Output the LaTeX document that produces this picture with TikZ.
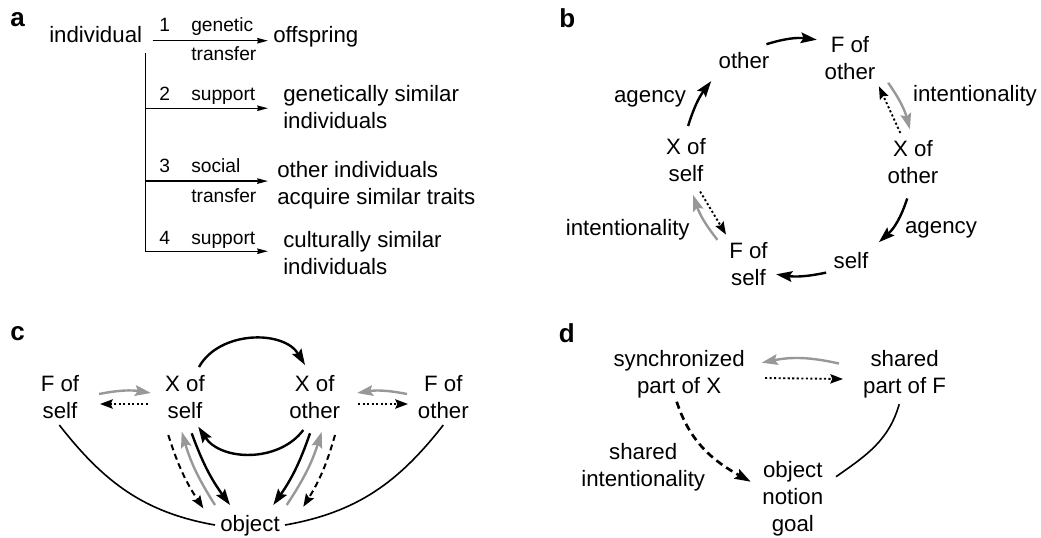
\documentclass[tikz,border=0pt]{standalone}
\usepackage{fontspec}
\setmainfont{Liberation Sans}
\usetikzlibrary{arrows.meta,calc}
\definecolor{arrowgray}{RGB}{152,152,152}

\begin{document}
\begin{tikzpicture}[x=0.75pt,y=0.75pt,
  txt/.style={inner sep=0pt, align=center, font=\fontsize{16.7}{20.3}\selectfont},
  small/.style={inner sep=0pt, anchor=base west, font=\fontsize{14.4}{17}\selectfont},
  panel/.style={inner sep=0pt, anchor=base west, font=\fontsize{19.5}{22}\selectfont\bfseries},
  thinarrow/.style={line width=1.1pt, -{Stealth[length=8pt,width=4pt,inset=0.5pt]}},
  solidarrow/.style={line width=1.8pt, -{Stealth[length=12pt,width=8pt,inset=2pt]}},
  grayarrow/.style={solidarrow, color=arrowgray},
  dotarrow/.style={line width=1.4pt, dash pattern=on 1.6pt off 1.8pt, -{Stealth[length=9.5pt,width=7pt,inset=1.5pt]}},
  dasharrow/.style={line width=1.5pt, dash pattern=on 4.5pt off 3pt, -{Stealth[length=9.5pt,width=7pt,inset=1.5pt]}},
  heavydash/.style={line width=2pt, dash pattern=on 5.5pt off 3.5pt, -{Stealth[length=12pt,width=8pt,inset=2pt]}},
  link/.style={line width=1.2pt}
]
\useasboundingbox (0,0) rectangle (1041,-537);

% ---------------- panel a ----------------
\node[panel] (la) at (10,-26.7) {a};
\node[txt, anchor=base west] (ind) at (49,-42) {individual};
\node[txt, anchor=base west] (off) at (273,-42) {offspring};
\node[txt, align=left, anchor=north west] (gen) at (283,-85) {genetically similar\\individuals};
\node[txt, align=left, anchor=north west] (acq) at (277,-161) {other individuals\\acquire similar traits};
\node[txt, align=left, anchor=north west] (cul) at (283,-231) {culturally similar\\individuals};

\node[small] (k1) at (159,-31) {1};
\node[small] (g1) at (191,-31) {genetic};
\node[small] (t1) at (191,-60) {transfer};
\node[small] (k2) at (159,-100) {2};
\node[small] (s2) at (191,-100) {support};
\node[small] (k3) at (159,-172) {3};
\node[small] (s3) at (191,-172) {social};
\node[small] (t3) at (191,-202) {transfer};
\node[small] (k4) at (159,-244) {4};
\node[small] (s4) at (191,-244) {support};

\draw[thinarrow] ($(ind.base east)+(10.2,1.3)$) -- ($(off.base west)+(-5,1.3)$);
\coordinate (trunk) at ($(ind.base east)+(3.2,-11)$);
\draw[thinarrow] ($(trunk |- gen.west)+(0,-1.25)$) -- ($(gen.west)+(-15,-1.25)$);
\draw[thinarrow] ($(trunk |- acq.west)+(0,4.1)$) -- ($(acq.west)+(-9,4.1)$);
\draw[thinarrow] (trunk) |- ($(cul.west)+(-15,1.75)$);

% ---------------- panel b ----------------
\node[panel] (lb) at (559,-27.6) {b};
\node[txt] (b-oth) at (744,-61) {other};
\node[txt] (b-Fo) at (850,-58) {F of\\other};
\node[txt] (b-Xo) at (913,-162) {X of\\other};
\node[txt] (b-self) at (851,-261) {self};
\node[txt] (b-Fs) at (748.5,-263.6) {F of\\self};
\node[txt] (b-Xs) at (686,-160) {X of\\self};
\node[txt] (b-int1) at (975,-95.8) {intentionality};
\node[txt] (b-ag1) at (941,-229.5) {agency};
\node[txt] (b-int2) at (627.7,-229.5) {intentionality};
\node[txt] (b-ag2) at (650,-99.2) {agency};

\draw[solidarrow] ($(b-oth)+(22.4,16.8)$) to[bend left=12] ($(b-Fo)+(-33.2,18.3)$);
\draw[grayarrow] ($(b-Fo)+(38.2,-24.8)$) to[bend left=10] ($(b-Xo)+(-3.1,32.6)$);
\draw[dotarrow] ($(b-Xo)+(-12.7,29.1)$) -- ($(b-Fo)+(28.9,-28.3)$);
\draw[solidarrow] ($(b-Xo)+(-5.8,-36.4)$) to[bend left=15] ($(b-self)+(27.9,18.8)$);
\draw[solidarrow] ($(b-self)+(-24.9,-11.6)$) to[bend left=10] ($(b-Fs)+(27.6,-10.7)$);
\draw[grayarrow] ($(b-Fs)+(-31.1,23.8)$) to[bend left=10] ($(b-Xs)+(7.2,-35)$);
\draw[dotarrow] ($(b-Xs)+(14.1,-31.5)$) -- ($(b-Fs)+(-22.5,29)$);
\draw[solidarrow] ($(b-Xs)+(2.1,34)$) to[bend left=10] ($(b-oth)+(-32.8,-20.1)$);

% ---------------- panel c ----------------
\node[panel] (lc) at (10,-340) {c};
\node[txt] (c-Fs) at (60,-397.5) {F of\\self};
\node[txt] (c-Xs) at (185,-397.5) {X of\\self};
\node[txt] (c-Xo) at (314.7,-397.5) {X of\\other};
\node[txt] (c-Fo) at (443.3,-397.5) {F of\\other};
\node[txt] (c-obj) at (250,-526) {object};

\draw[grayarrow] ($(c-Fs)+(39,3.5)$) to[bend left=10] ($(c-Xs)+(-34,4.5)$);
\draw[dotarrow] ($(c-Xs)+(-37,-6.5)$) -- ($(c-Fs)+(40,-6.5)$);
\draw[grayarrow] ($(c-Fo)+(-36.3,3.5)$) to[bend right=10] ($(c-Xo)+(42.3,4.5)$);
\draw[dotarrow] ($(c-Xo)+(43.3,-6.5)$) -- ($(c-Fo)+(-35.3,-6.5)$);

\draw[solidarrow] ($(c-Xs)+(14,30.5)$) to[bend left=60] ($(c-Xo)+(-9.7,32.5)$);
\draw[solidarrow] ($(c-Xo)+(-11.4,-32.5)$) to[bend left=55] ($(c-Xs)+(13.3,-29.2)$);

\draw[dasharrow] ($(c-Xs)+(-16.7,-37.5)$) to[bend right=8] ($(c-obj)+(-46.7,17.7)$);
\draw[grayarrow] ($(c-obj)+(-35,21)$) to[bend left=8] ($(c-Xs)+(-3.3,-34.2)$);
\draw[solidarrow] ($(c-Xs)+(6.7,-35.8)$) to[bend right=8] ($(c-obj)+(-20,21)$);
\draw[solidarrow] ($(c-Xo)+(-4.7,-35.8)$) to[bend left=8] ($(c-obj)+(23.3,21)$);
\draw[grayarrow] ($(c-obj)+(36.7,21)$) to[bend right=8] ($(c-Xo)+(7,-34.2)$);
\draw[dasharrow] ($(c-Xo)+(20.3,-37.5)$) to[bend left=8] ($(c-obj)+(53.3,19.3)$);

\draw[link] ($(c-Fs)+(-0.7,-27.5)$) to[out=-52,in=170] ($(c-obj)+(-35,1)$);
\draw[link] ($(c-Fo)+(0,-27.5)$) to[out=-128,in=10] ($(c-obj)+(35,1)$);

% ---------------- panel d ----------------
\node[panel] (ld) at (558.7,-342) {d};
\node[txt] (d-sync) at (679.1,-374.3) {synchronized\\part of X};
\node[txt] (d-shF) at (904.6,-374.3) {shared\\part of F};
\node[txt] (d-shI) at (643.2,-467) {shared\\intentionality};
\node[txt] (d-obj) at (792.8,-499) {object\\notion\\goal};

\draw[grayarrow] ($(d-shF)+(-65.6,10.8)$) to[bend right=12] ($(d-sync)+(82.6,11.6)$);
\draw[dotarrow] ($(d-sync)+(85.9,-3.7)$) -- ($(d-shF)+(-61.6,-4.7)$);
\draw[heavydash] ($(d-sync)+(-2.4,-27.4)$) to[out=-72,in=151] ($(d-obj)+(-42.1,17.3)$);
\draw[link] ($(d-shF)+(-5.4,-29.9)$) to[out=-106,in=35] ($(d-obj)+(43.2,22.3)$);
\end{tikzpicture}
\end{document}
